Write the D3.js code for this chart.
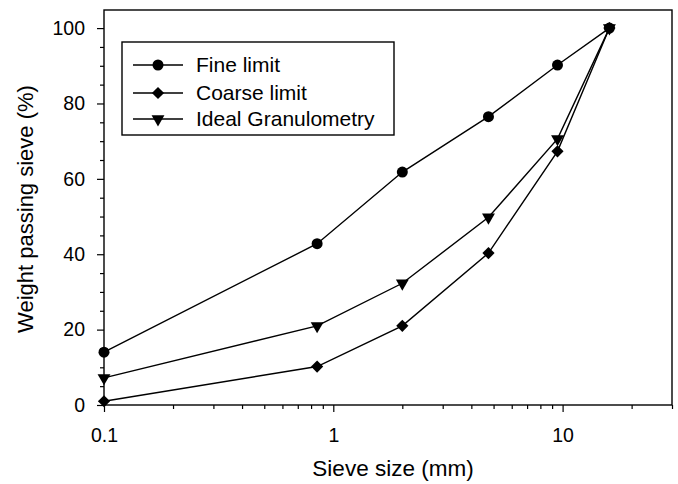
<!DOCTYPE html>
<html>
<head>
<meta charset="utf-8">
<script src="https://d3js.org/d3.v7.min.js"></script>
<style>
  body { margin: 0; background: #fff; }
  text { font-family: "Liberation Sans", Arial, sans-serif; fill: #000; }
</style>
</head>
<body>
<div id="chart-area"></div>
<script>
// sieve sizes (mm) and % passing
const sizes = [0.1, 0.85, 2, 4.75, 9.5, 16];
const fineLimit = [14, 42.8, 61.8, 76.5, 90.2, 100];
const coarseLimit = [1, 10.2, 21, 40.3, 67.3, 100];
const idealGrading = [7.2, 21, 32.3, 49.8, 70.6, 100];
const seriesNames = ['Fine limit', 'Coarse limit', 'Ideal Granulometry'];
const xTickLabels = [0.1, 1, 10];
const yTickLabels = [0, 20, 40, 60, 80, 100];

const margin = { top: 10, right: 6, bottom: 79, left: 104 };
const width = 678 - margin.left - margin.right;
const height = 484 - margin.top - margin.bottom;

const svg = d3.select('#chart-area')
  .append('svg')
    .attr('width', 678)
    .attr('height', 484);

const g = svg.append('g')
  .attr('transform', 'translate(' + margin.left + ',' + margin.top + ')');

const x = d3.scaleLog()
  .domain([0.1, 30])
  .range([0, width]);

const y = d3.scaleLinear()
  .domain([0, 104.8])
  .range([height, 0]);

// minor ticks
const xMinor = [];
[0.1, 1, 10].forEach(d => {
  for (let k = 2; k <= 9; k++) if (d * k <= 30) xMinor.push(d * k);
});
const yMinor = d3.range(0, 105, 5).filter(v => v % 20 !== 0);

const xAxisMinor = d3.axisBottom(x).tickValues(xMinor).tickSize(4).tickFormat('');
const xAxisCall = d3.axisBottom(x).tickValues(xTickLabels).tickSize(7).tickPadding(16)
  .tickFormat(d => d);
const yAxisMinor = d3.axisLeft(y).tickValues(yMinor).tickSize(4).tickFormat('');
const yAxisCall = d3.axisLeft(y).tickValues(yTickLabels).tickSize(7).tickPadding(12);

g.append('g').attr('transform', 'translate(0,' + height + ')').call(xAxisMinor);
const xg = g.append('g').attr('transform', 'translate(0,' + height + ')').call(xAxisCall);
g.append('g').call(yAxisMinor);
const yg = g.append('g').call(yAxisCall);

g.selectAll('.domain').remove();
g.selectAll('.tick line').attr('stroke', '#000').attr('stroke-width', 1.2);
xg.selectAll('text').attr('font-size', 19.5);
yg.selectAll('text').attr('font-size', 19.5);

// frame
g.append('rect')
  .attr('width', width)
  .attr('height', height)
  .attr('fill', 'none')
  .attr('stroke', '#000')
  .attr('stroke-width', 1.4);

// axis titles
svg.append('text')
  .attr('x', 393)
  .attr('y', 476)
  .attr('text-anchor', 'middle')
  .attr('font-size', 22.5)
  .text('Sieve size (mm)');

svg.append('text')
  .attr('transform', 'translate(33,209) rotate(-90)')
  .attr('text-anchor', 'middle')
  .attr('font-size', 22)
  .text('Weight passing sieve (%)');

const symbols = [d3.symbolCircle, d3.symbolDiamond2, d3.symbolTriangle];
const symSize = [95, 95, 72];
const series = [fineLimit, coarseLimit, idealGrading];

const marker = (sel, i) => {
  sel.attr('d', d3.symbol().type(symbols[i]).size(symSize[i]))
    .attr('fill', '#000');
};

const line = d3.line()
  .x(d => x(d[0]))
  .y(d => y(d[1]));

series.forEach((vals, i) => {
  const pts = sizes.map((s, j) => [s, vals[j]]);
  g.append('path')
    .datum(pts)
    .attr('d', line)
    .attr('fill', 'none')
    .attr('stroke', '#000')
    .attr('stroke-width', 1.4);

  g.selectAll('.pt' + i)
    .data(pts)
    .enter()
    .append('path')
      .attr('class', 'pt' + i)
      .call(marker, i)
      .attr('transform', d => 'translate(' + x(d[0]) + ',' + y(d[1]) + ')' + (i === 2 ? ' rotate(180)' : ''));
});

// legend
const legend = svg.append('g');
legend.append('rect')
  .attr('x', 122)
  .attr('y', 42)
  .attr('width', 272)
  .attr('height', 93)
  .attr('fill', '#fff')
  .attr('stroke', '#000')
  .attr('stroke-width', 1.4);

const rowY = [65, 93, 119];
seriesNames.forEach((name, i) => {
  legend.append('line')
    .attr('x1', 133).attr('x2', 183)
    .attr('y1', rowY[i]).attr('y2', rowY[i])
    .attr('stroke', '#000')
    .attr('stroke-width', 1.4);
  legend.append('path')
    .call(marker, i)
    .attr('transform', 'translate(158,' + rowY[i] + ')' + (i === 2 ? ' rotate(180)' : ''));
  legend.append('text')
    .attr('x', 196)
    .attr('y', rowY[i])
    .attr('dy', '0.35em')
    .attr('font-size', 21)
    .text(name);
});
</script>
</body>
</html>
